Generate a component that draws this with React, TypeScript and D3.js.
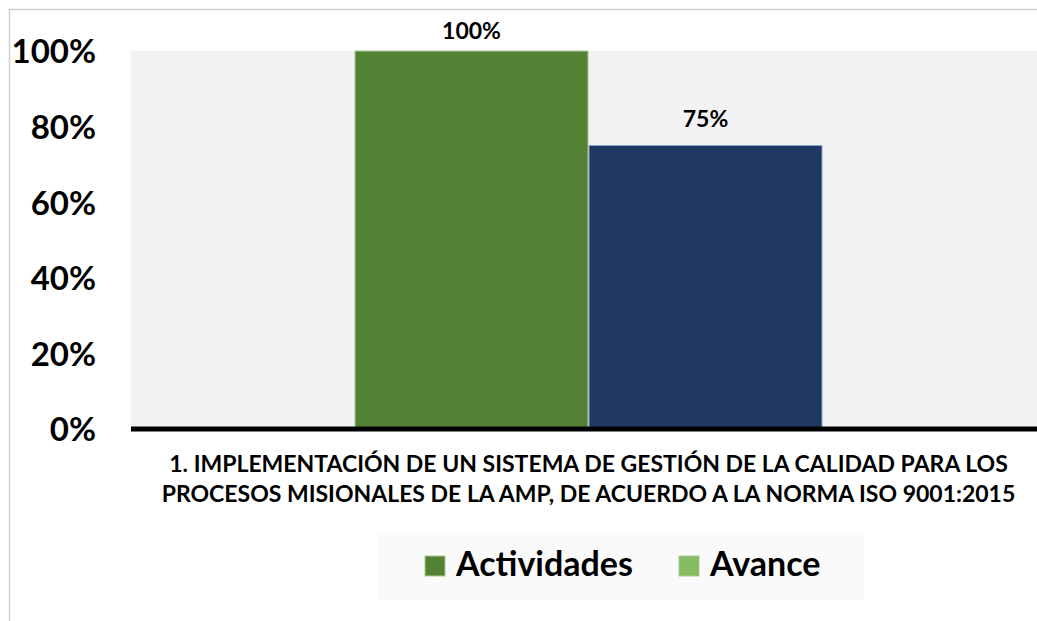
import React, { useEffect, useRef } from 'react';
import * as d3 from 'd3';

// data
const categories = ['1. IMPLEMENTACIÓN DE UN SISTEMA DE GESTIÓN DE LA CALIDAD PARA LOS|PROCESOS MISIONALES DE LA AMP, DE ACUERDO A LA NORMA ISO 9001:2015'];
const seriesNames = ['Actividades', 'Avance'];
const actividades = [1.0];
const avance = [0.75];
const yTicks = [0, 0.2, 0.4, 0.6, 0.8, 1.0];

const barColors = ['#548235', '#203864'];
const barStrokes = ['#a9c98f', '#8fa6c9'];
const legendColors = ['#548235', '#84bb63'];

const FONT = 'Lato, "Open Sans", sans-serif';

const App = () => {
  const svgRef = useRef<SVGSVGElement>(null);

  useEffect(() => {
    const width = 1037;
    const height = 621;
    const svg = d3.select(svgRef.current);
    svg.selectAll('*').remove();

    const plot = { left: 131, right: 1046, top: 51, bottom: 429 };

    // chart border (partly off the page)
    svg.append('path')
      .attr('d', `M9.5,${height + 5} V9.5 H${width + 5}`)
      .attr('fill', 'none')
      .attr('stroke', '#d0d0d0')
      .attr('stroke-width', 1.5);

    svg.append('rect')
      .attr('x', plot.left)
      .attr('y', plot.top)
      .attr('width', plot.right - plot.left)
      .attr('height', plot.bottom - plot.top)
      .attr('fill', '#f2f2f2');

    const y = d3.scaleLinear().domain([0, 1]).range([plot.bottom, plot.top]);

    const x0 = d3.scaleBand()
      .domain(categories)
      .range([plot.left, plot.right])
      .paddingInner(0)
      .paddingOuter(0.4776);

    const x1 = d3.scaleBand()
      .domain(seriesNames)
      .range([0, x0.bandwidth()])
      .padding(0);

    const rows = categories.map((c, i) => ({
      cat: c,
      values: [
        { key: seriesNames[0], value: actividades[i] },
        { key: seriesNames[1], value: avance[i] }
      ]
    }));

    const groups = svg.selectAll('.grp')
      .data(rows)
      .enter().append('g')
      .attr('transform', d => `translate(${x0(d.cat)},0)`);

    groups.selectAll('rect')
      .data(d => d.values)
      .enter().append('rect')
      .attr('x', d => x1(d.key)! + 0.5)
      .attr('y', d => y(d.value))
      .attr('width', x1.bandwidth() - 1)
      .attr('height', d => plot.bottom - y(d.value))
      .attr('fill', (d, i) => barColors[i])
      .attr('stroke', (d, i) => barStrokes[i])
      .attr('stroke-width', 1);

    groups.selectAll('.lbl')
      .data(d => d.values)
      .enter().append('text')
      .attr('x', d => x1(d.key)! + x1.bandwidth() / 2)
      .attr('y', d => Math.max(39, y(d.value) - 19))
      .attr('text-anchor', 'middle')
      .attr('font-family', FONT)
      .attr('font-weight', 'bold')
      .attr('font-size', 23)
      .attr('fill', '#000')
      .text(d => d3.format('.0%')(d.value));

    // baseline
    svg.append('line')
      .attr('x1', plot.left)
      .attr('x2', width)
      .attr('y1', y(0))
      .attr('y2', y(0))
      .attr('stroke', '#000')
      .attr('stroke-width', 5);

    // y axis labels
    const yAxis = svg.append('g')
      .attr('transform', `translate(96,0)`)
      .call(d3.axisLeft(y).tickValues(yTicks).tickFormat(d3.format('.0%')).tickSize(0).tickPadding(0));
    yAxis.select('.domain').remove();
    yAxis.selectAll('text')
      .attr('font-family', FONT)
      .attr('font-weight', 'bold')
      .attr('font-size', 33)
      .attr('fill', '#000')
      .attr('dy', '0.36em');

    // category label (two lines)
    categories.forEach(c => {
      const lines = c.split('|');
      const cx = x0(c)! + x0.bandwidth() / 2;
      lines.forEach((ln, i) => {
        svg.append('text')
          .attr('x', cx)
          .attr('y', 472 + i * 30)
          .attr('text-anchor', 'middle')
          .attr('font-family', FONT)
          .attr('font-weight', 'bold')
          .attr('font-size', 23)
          .attr('fill', '#000')
          .text(ln);
      });
    });

    // legend
    const legend = svg.append('g');
    legend.append('rect')
      .attr('x', 377).attr('y', 532)
      .attr('width', 487).attr('height', 68)
      .attr('fill', '#fafafa');

    const legendX = [425, 679];
    seriesNames.forEach((name, i) => {
      legend.append('rect')
        .attr('x', legendX[i]).attr('y', 556)
        .attr('width', 20).attr('height', 20)
        .attr('fill', legendColors[i])
        .attr('stroke', '#a9c98f')
        .attr('stroke-width', 1);
      legend.append('text')
        .attr('x', legendX[i] + 31)
        .attr('y', 576)
        .attr('font-family', FONT)
        .attr('font-weight', 'bold')
        .attr('font-size', 34)
        .attr('fill', '#000')
        .text(name);
    });
  }, []);

  return (
    <svg
      ref={svgRef}
      width={1037}
      height={621}
      style={{ position: 'absolute', left: 0, top: 0, background: '#fff' }}
    />
  );
};

export default App;
